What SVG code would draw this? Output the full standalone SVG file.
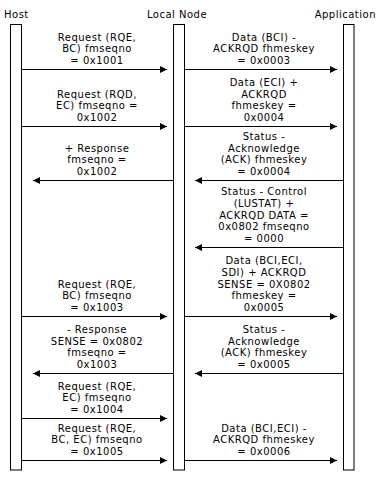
<svg xmlns="http://www.w3.org/2000/svg" width="380" height="482" viewBox="0 0 380 482">
<style>
text{font-family:"DejaVu Sans","Verdana",sans-serif;font-size:10px;letter-spacing:0.5px;fill:#000}
.lbl{text-anchor:middle}
.bar{fill:#fff;stroke:#000;stroke-width:1}
.msg{stroke:#000;stroke-width:1;fill:none;marker-end:url(#ah)}
</style>
<defs>
<marker id="ah" markerUnits="userSpaceOnUse" markerWidth="8" markerHeight="8" refX="7" refY="3.5" orient="auto">
<path d="M0,0 L7,3.5 L0,7 z" fill="#000"/>
</marker>
</defs>
<rect width="380" height="482" fill="#fff"/>
<g id="host">
<text x="4" y="18">Host</text>
<rect class="bar" x="10.5" y="24.5" width="11" height="445.5"/>
</g>
<g id="localnode">
<text x="177" y="18" class="lbl">Local Node</text>
<rect class="bar" x="173.5" y="24.5" width="11" height="445.5"/>
</g>
<g id="application">
<text x="376" y="18" text-anchor="end">Application</text>
<rect class="bar" x="343.5" y="24.5" width="10.5" height="445.5"/>
</g>
<g id="connectors">
<line class="msg" x1="22" y1="69.5" x2="167" y2="69.5"/>
<line class="msg" x1="185" y1="69.5" x2="337" y2="69.5"/>
<line class="msg" x1="22" y1="126.5" x2="167" y2="126.5"/>
<line class="msg" x1="185" y1="126.5" x2="337" y2="126.5"/>
<line class="msg" x1="173" y1="180.5" x2="33" y2="180.5"/>
<line class="msg" x1="343" y1="180.5" x2="195" y2="180.5"/>
<line class="msg" x1="343" y1="247.5" x2="195" y2="247.5"/>
<line class="msg" x1="22" y1="316.5" x2="167" y2="316.5"/>
<line class="msg" x1="185" y1="316.5" x2="337" y2="316.5"/>
<line class="msg" x1="173" y1="373.5" x2="33" y2="373.5"/>
<line class="msg" x1="343" y1="373.5" x2="195" y2="373.5"/>
<line class="msg" x1="22" y1="418.5" x2="167" y2="418.5"/>
<line class="msg" x1="22" y1="460.5" x2="167" y2="460.5"/>
<line class="msg" x1="185" y1="460.5" x2="337" y2="460.5"/>
</g>
<g id="labels">
<text class="lbl" y="40.6"><tspan x="97">Request (RQE,</tspan><tspan x="97" dy="11.7">BC) fmseqno</tspan><tspan x="97" dy="11.7">= 0x1001</tspan></text>
<text class="lbl" y="40.6"><tspan x="264">Data (BCI) -</tspan><tspan x="264" dy="11.7">ACKRQD fhmeskey</tspan><tspan x="264" dy="11.7">= 0x0003</tspan></text>
<text class="lbl" y="97.6"><tspan x="97">Request (RQD,</tspan><tspan x="97" dy="11.7">EC) fmseqno =</tspan><tspan x="97" dy="11.7">0x1002</tspan></text>
<text class="lbl" y="85.9"><tspan x="264">Data (ECI) +</tspan><tspan x="264" dy="11.7">ACKRQD</tspan><tspan x="264" dy="11.7">fhmeskey =</tspan><tspan x="264" dy="11.7">0x0004</tspan></text>
<text class="lbl" y="151.6"><tspan x="97">+ Response</tspan><tspan x="97" dy="11.7">fmseqno =</tspan><tspan x="97" dy="11.7">0x1002</tspan></text>
<text class="lbl" y="139.9"><tspan x="264">Status -</tspan><tspan x="264" dy="11.7">Acknowledge</tspan><tspan x="264" dy="11.7">(ACK) fhmeskey</tspan><tspan x="264" dy="11.7">= 0x0004</tspan></text>
<text class="lbl" y="195.2"><tspan x="264">Status - Control</tspan><tspan x="264" dy="11.7">(LUSTAT) +</tspan><tspan x="264" dy="11.7">ACKRQD DATA =</tspan><tspan x="264" dy="11.7">0x0802 fmseqno</tspan><tspan x="264" dy="11.7">= 0000</tspan></text>
<text class="lbl" y="264.2"><tspan x="264">Data (BCI,ECI,</tspan><tspan x="264" dy="11.7">SDI) + ACKRQD</tspan><tspan x="264" dy="11.7">SENSE = 0X0802</tspan><tspan x="264" dy="11.7">fhmeskey =</tspan><tspan x="264" dy="11.7">0x0005</tspan></text>
<text class="lbl" y="287.6"><tspan x="97">Request (RQE,</tspan><tspan x="97" dy="11.7">BC) fmseqno</tspan><tspan x="97" dy="11.7">= 0x1003</tspan></text>
<text class="lbl" y="332.9"><tspan x="97">- Response</tspan><tspan x="97" dy="11.7">SENSE = 0x0802</tspan><tspan x="97" dy="11.7">fmseqno =</tspan><tspan x="97" dy="11.7">0x1003</tspan></text>
<text class="lbl" y="332.9"><tspan x="264">Status -</tspan><tspan x="264" dy="11.7">Acknowledge</tspan><tspan x="264" dy="11.7">(ACK) fhmeskey</tspan><tspan x="264" dy="11.7">= 0x0005</tspan></text>
<text class="lbl" y="389.6"><tspan x="97">Request (RQE,</tspan><tspan x="97" dy="11.7">EC) fmseqno</tspan><tspan x="97" dy="11.7">= 0x1004</tspan></text>
<text class="lbl" y="431.6"><tspan x="97">Request (RQE,</tspan><tspan x="97" dy="11.7">BC, EC) fmseqno</tspan><tspan x="97" dy="11.7">= 0x1005</tspan></text>
<text class="lbl" y="431.6"><tspan x="264">Data (BCI,ECI) -</tspan><tspan x="264" dy="11.7">ACKRQD fhmeskey</tspan><tspan x="264" dy="11.7">= 0x0006</tspan></text>
</g>
</svg>
